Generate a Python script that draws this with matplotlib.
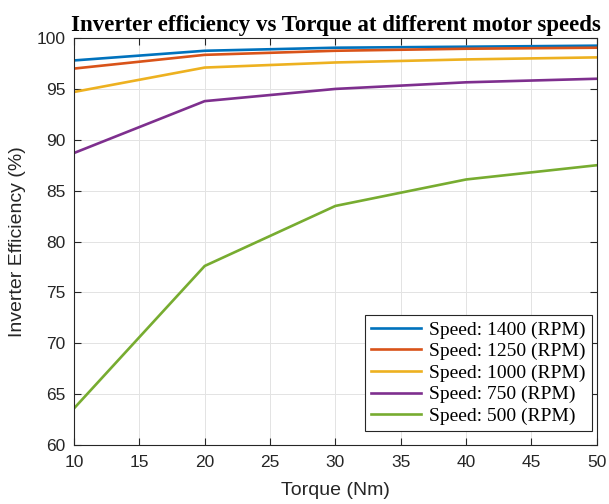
import numpy as np
import matplotlib
matplotlib.use("Agg")
import matplotlib.pyplot as plt

# torque points (Nm)
torque = [10, 20, 30, 40, 50]

# inverter efficiency (%) per speed
eff_1400 = [97.8, 98.75, 99.05, 99.15, 99.25]
eff_1250 = [97.0, 98.35, 98.75, 98.95, 99.05]
eff_1000 = [94.7, 97.1, 97.6, 97.9, 98.1]
eff_750 = [88.7, 93.8, 95.0, 95.65, 96.0]
eff_500 = [63.6, 77.6, 83.5, 86.1, 87.5]

labels = ['Speed: 1400 (RPM)', 'Speed: 1250 (RPM)', 'Speed: 1000 (RPM)',
          'Speed: 750 (RPM)', 'Speed: 500 (RPM)']
colors = ['#0072BD', '#D95319', '#EDB120', '#7E2F8E', '#77AC30']
series = [eff_1400, eff_1250, eff_1000, eff_750, eff_500]

plt.rcParams['font.family'] = ['Liberation Sans', 'DejaVu Sans']

fig = plt.figure(figsize=(6.09, 5.04), dpi=100)
ax = fig.add_axes([0.1215, 0.117, 0.8585, 0.8075])

for s, c, l in zip(series, colors, labels):
    ax.plot(torque, s, color=c, lw=1.9, label=l)

ax.set_xlim(10, 50)
ax.set_ylim(60, 100)
ax.set_xticks(np.arange(10, 51, 5))
ax.set_yticks(np.arange(60, 101, 5))
ax.grid(True, color='#e3e3e3', lw=0.7)
ax.set_axisbelow(True)
ax.tick_params(direction='in', top=True, right=True, labelsize=12.5,
               color='#262626', labelcolor='#262626', length=5)
ax.tick_params(axis='x', pad=7)
ax.tick_params(axis='y', pad=6)
for sp in ax.spines.values():
    sp.set_color('#262626')
    sp.set_linewidth(0.8)

ax.set_xlabel('Torque (Nm)', fontsize=14, color='#262626', labelpad=9)
ax.set_ylabel('Inverter Efficiency (%)', fontsize=14, color='#262626', labelpad=8)
ax.set_title('Inverter efficiency vs Torque at different motor speeds',
             fontsize=16.5, fontweight='bold', family='Liberation Serif', pad=5)

leg = ax.legend(loc='lower right', bbox_to_anchor=(0.99, 0.035),
                prop={'family': 'Liberation Serif', 'size': 14},
                fancybox=False, edgecolor='#262626', framealpha=1,
                handlelength=2.6, borderpad=0.3, labelspacing=0.2,
                handletextpad=0.4, borderaxespad=0)
leg.get_frame().set_linewidth(0.8)

fig.savefig('out.png', dpi=100)
